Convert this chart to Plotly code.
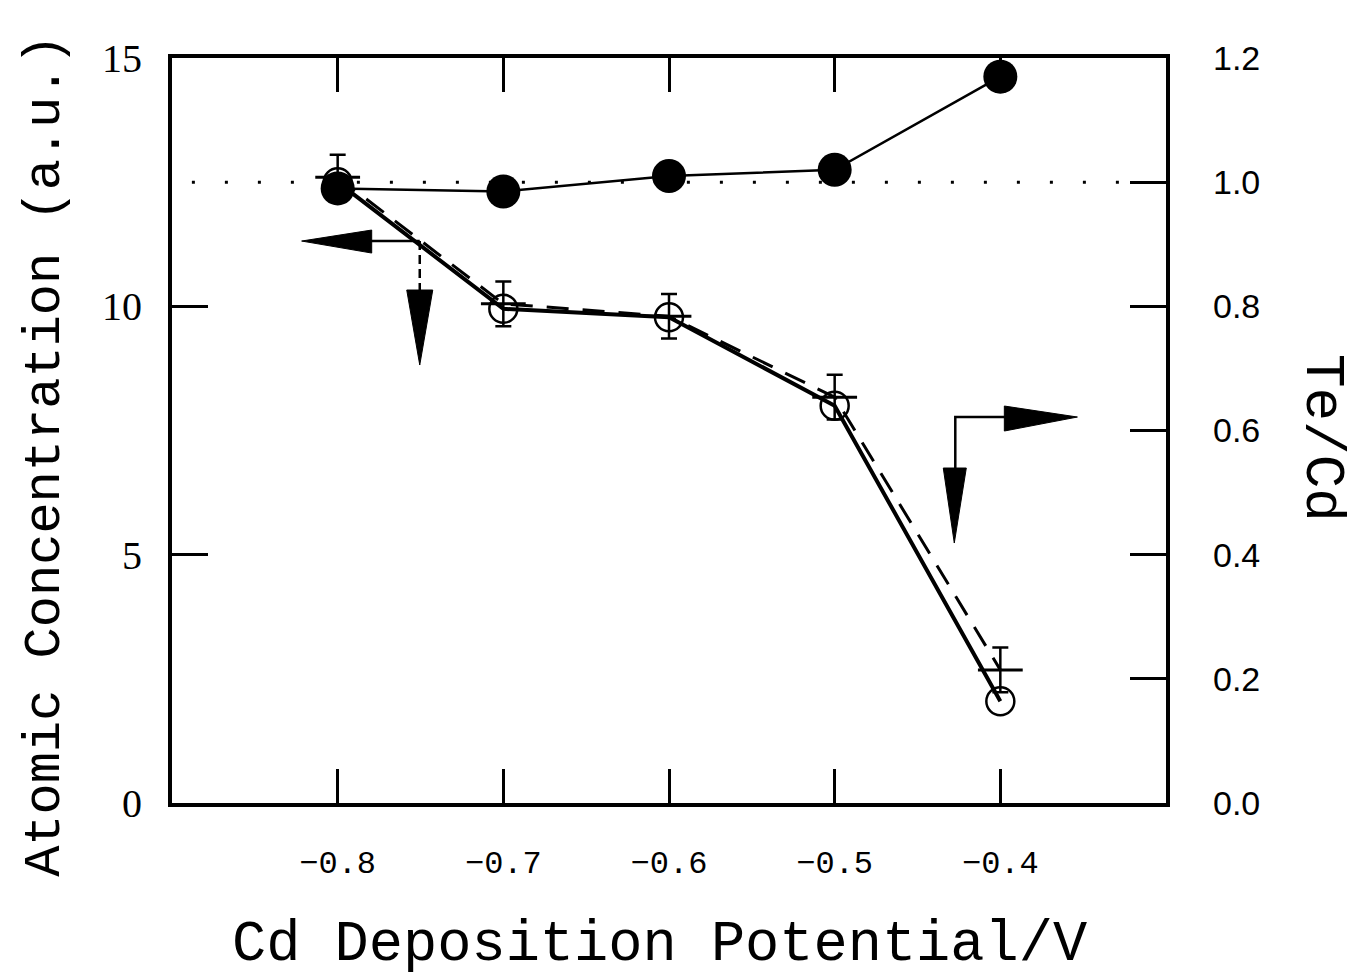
import plotly.graph_objects as go

# ---- data ----
potential = [-0.8, -0.7, -0.6, -0.5, -0.4]
x_tick_vals = [-0.8, -0.7, -0.6, -0.5, -0.4]
x_tick_text = ["−0.8", "−0.7", "−0.6", "−0.5", "−0.4"]
y_tick_vals = [0, 5, 10, 15]
y2_tick_vals = [0.0, 0.2, 0.4, 0.6, 0.8, 1.0, 1.2]
y2_tick_text = ["0.0", "0.2", "0.4", "0.6", "0.8", "1.0", "1.2"]

conc_circles = [12.5, 9.95, 9.78, 8.0, 2.05]      # open circles, solid line
conc_plus = [12.6, 10.05, 9.8, 8.17, 2.68]        # plus markers, dashed line
conc_plus_err = [0.45, 0.45, 0.45, 0.45, 0.45]
te_cd_ratio = [0.99, 0.985, 1.01, 1.02, 1.17]     # filled circles, right axis

fig = go.Figure()

# dashed line with plus markers + error bars
fig.add_trace(go.Scatter(
    x=potential, y=conc_plus, mode="lines+markers",
    line=dict(color="black", width=3, dash="22px,14px"),
    marker=dict(symbol="line-ew", size=32, line=dict(color="black", width=3)),
    error_y=dict(type="data", array=conc_plus_err, color="black", thickness=2.5, width=8),
    showlegend=False,
))

# solid line with open circles
fig.add_trace(go.Scatter(
    x=potential, y=conc_circles, mode="lines+markers",
    line=dict(color="black", width=4),
    marker=dict(symbol="circle-open", size=28, color="black", line=dict(color="black", width=2.5)),
    showlegend=False,
))

# Te/Cd ratio, right axis
fig.add_trace(go.Scatter(
    x=potential, y=te_cd_ratio, mode="lines+markers", yaxis="y2",
    line=dict(color="black", width=2.5),
    marker=dict(symbol="circle", size=34, color="black"),
    showlegend=False,
))

def px2x(px):
    return -0.8 + (px - 336) / 1655.0

def py2y(py):
    return (803 - py) / 49.67

shapes = []
# dotted reference line at Te/Cd = 1.0
shapes.append(dict(type="line", xref="paper", yref="y2", x0=0.02, x1=0.98, y0=1.0, y1=1.0,
                   line=dict(color="black", width=3, dash="3px,30px")))

# left arrow group (points to left axis)
shapes.append(dict(type="line", xref="x", yref="y", x0=px2x(418), x1=px2x(368), y0=py2y(241), y1=py2y(241),
                   line=dict(color="black", width=2.5)))
shapes.append(dict(type="path", xref="x", yref="y", fillcolor="black", line=dict(color="black", width=1),
                   path=f"M {px2x(300)},{py2y(241)} L {px2x(370)},{py2y(230)} L {px2x(370)},{py2y(253)} Z"))
shapes.append(dict(type="line", xref="x", yref="y", x0=px2x(418), x1=px2x(418), y0=py2y(241), y1=py2y(292),
                   line=dict(color="black", width=2.5, dash="9px,5px")))
shapes.append(dict(type="path", xref="x", yref="y", fillcolor="black", line=dict(color="black", width=1),
                   path=f"M {px2x(405)},{py2y(290)} L {px2x(431)},{py2y(290)} L {px2x(418)},{py2y(365)} Z"))

# right arrow group (points to right axis)
shapes.append(dict(type="path", xref="x", yref="y", line=dict(color="black", width=2.5),
                   path=f"M {px2x(953)},{py2y(470)} L {px2x(953)},{py2y(417)} L {px2x(1004)},{py2y(417)}"))
shapes.append(dict(type="path", xref="x", yref="y", fillcolor="black", line=dict(color="black", width=1),
                   path=f"M {px2x(1002)},{py2y(406)} L {px2x(1075)},{py2y(417)} L {px2x(1002)},{py2y(431)} Z"))
shapes.append(dict(type="path", xref="x", yref="y", fillcolor="black", line=dict(color="black", width=1),
                   path=f"M {px2x(941)},{py2y(468)} L {px2x(964)},{py2y(468)} L {px2x(952)},{py2y(543)} Z"))

annotations = [
    dict(text="Cd Deposition Potential/V", xref="paper", yref="paper", x=0.49, y=-0.19,
         showarrow=False, font=dict(family="Liberation Mono", size=57, color="black"),
         xanchor="center", yanchor="middle"),
    dict(text="Atomic Concentration (a.u.)", xref="paper", yref="paper", x=-0.128, y=0.467,
         showarrow=False, textangle=-90, font=dict(family="Liberation Mono", size=52, color="black"),
         xanchor="center", yanchor="middle"),
    dict(text="Te/Cd", xref="paper", yref="paper", x=1.157, y=0.49,
         showarrow=False, textangle=90, font=dict(family="Liberation Mono", size=56, color="black"),
         xanchor="center", yanchor="middle"),
]

fig.update_layout(
    width=1361, height=980,
    margin=dict(l=172, r=195, t=58, b=177),
    paper_bgcolor="white", plot_bgcolor="white",
    shapes=shapes, annotations=annotations,
    xaxis=dict(range=[-0.9, -0.3], tickvals=x_tick_vals, ticktext=x_tick_text,
               ticks="inside", ticklen=34, tickwidth=2.5, tickcolor="black",
               showline=True, linewidth=4, linecolor="black", mirror="ticks",
               showgrid=False, zeroline=False, ticklabelstandoff=28,
               tickfont=dict(family="Liberation Mono", size=32, color="black")),
    yaxis=dict(range=[0, 15], tickvals=y_tick_vals,
               ticks="inside", ticklen=36, tickwidth=2.5, tickcolor="black",
               showline=True, linewidth=4, linecolor="black", mirror=True,
               showgrid=False, zeroline=False, ticklabelstandoff=18,
               tickfont=dict(family="Liberation Serif", size=40, color="black")),
    yaxis2=dict(range=[0, 1.2], tickvals=y2_tick_vals, ticktext=y2_tick_text,
                overlaying="y", side="right",
                ticks="inside", ticklen=36, tickwidth=2.5, tickcolor="black",
                showline=False, showgrid=False, zeroline=False, ticklabelstandoff=46,
                tickfont=dict(family="Liberation Sans", size=34, color="black")),
)

fig.write_html("out.html")
